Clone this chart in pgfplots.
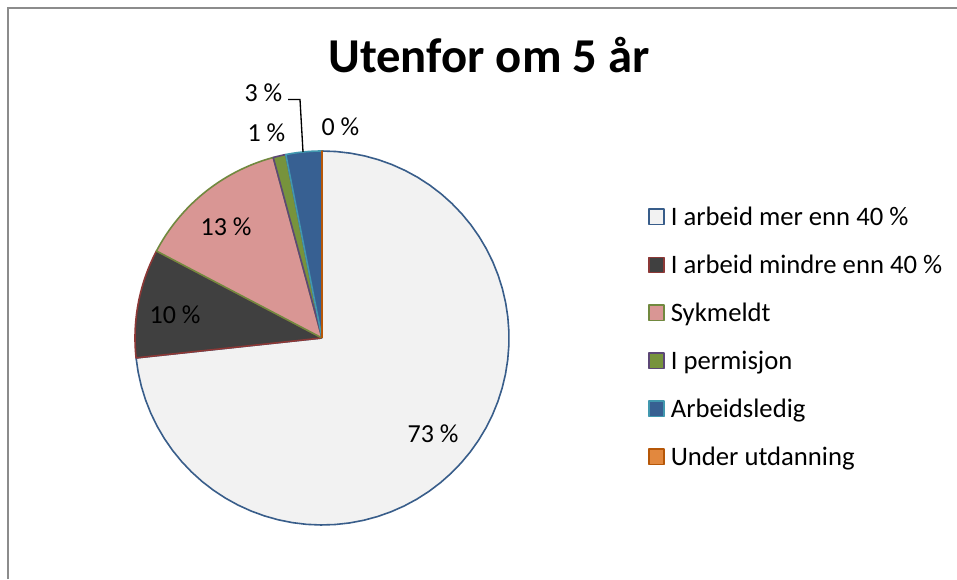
\documentclass[border=0pt]{standalone}
\usepackage{fontspec}
\setmainfont{Carlito}
\usepackage{pgfplots}
\usepackage{pgfplotstable}
\pgfplotsset{compat=1.18}
\definecolor{fA}{HTML}{F2F2F2}\definecolor{dA}{HTML}{385D8A}
\definecolor{fB}{HTML}{404040}\definecolor{dB}{HTML}{8C3836}
\definecolor{fC}{HTML}{D99694}\definecolor{dC}{HTML}{71893F}
\definecolor{fD}{HTML}{77933C}\definecolor{dD}{HTML}{5C4776}
\definecolor{fE}{HTML}{376092}\definecolor{dE}{HTML}{4198AF}
\definecolor{fF}{HTML}{E2883E}\definecolor{dF}{HTML}{B65708}
\definecolor{framegray}{HTML}{8C8C8C}

% share in percent, clockwise from 12 o'clock
\pgfplotstableread{
idx value
0 73.3
1 9.4
2 13.1
3 1.1
4 3.1
5 0.0
}\piedata

\newcommand\slice[4]{%
\addplot[fill=#1, draw=#2, line width=1.2pt, line join=round, samples at={0,...,62}, variable=\t]
 ({(\t<0.5||\t>61.5) ? 322 : 322+187*cos((#3)+((#4)-(#3))*(\t-1)/60)},
  {(\t<0.5||\t>61.5) ? 241 : 241+187*sin((#3)+((#4)-(#3))*(\t-1)/60)});
}

\begin{document}
\begin{tikzpicture}[x=0.75pt,y=0.75pt]
\useasboundingbox (0,0) rectangle (957,579);
\fill[white] (0,0) rectangle (957,579);
\draw[framegray, line width=1.5] (8,0) -- (8,571) -- (957,571);
\pgfplotstablegetelem{0}{value}\of\piedata\let\vA\pgfplotsretval
\pgfplotstablegetelem{1}{value}\of\piedata\let\vB\pgfplotsretval
\pgfplotstablegetelem{2}{value}\of\piedata\let\vC\pgfplotsretval
\pgfplotstablegetelem{3}{value}\of\piedata\let\vD\pgfplotsretval
\pgfplotstablegetelem{4}{value}\of\piedata\let\vE\pgfplotsretval
\pgfplotstablegetelem{5}{value}\of\piedata\let\vF\pgfplotsretval
\pgfmathsetmacro\aA{90}
\pgfmathsetmacro\aB{\aA-3.6*\vA}
\pgfmathsetmacro\aC{\aB-3.6*\vB}
\pgfmathsetmacro\aD{\aC-3.6*\vC}
\pgfmathsetmacro\aE{\aD-3.6*\vD}
\pgfmathsetmacro\aF{\aE-3.6*\vE}
\pgfmathsetmacro\aG{\aF-3.6*\vF}
\begin{axis}[at={(0,0)}, anchor=south west, x=0.75pt, y=0.75pt,
  xmin=0, xmax=957, ymin=0, ymax=579, hide axis, clip=false,
  legend image code/.code={\draw[#1, line width=1pt] (0pt,-5.8pt) rectangle (11.4pt,5.6pt);},
  legend cell align=left,
  legend style={at={(axis cs:648,376.7)}, anchor=north west, draw=none, fill=none,
    inner sep=0pt, row sep=14.9pt,
    font=\fontsize{20}{24}\selectfont,
    nodes={inner ysep=0pt, inner xsep=4.5pt, text height=17pt, text depth=4.1pt}},
]
\slice{fA}{dA}{\aA}{\aB}\addlegendentry{I arbeid mer enn 40 \%}
\slice{fB}{dB}{\aB}{\aC}\addlegendentry{I arbeid mindre enn 40 \%}
\slice{fC}{dC}{\aC}{\aD}\addlegendentry{Sykmeldt}
\slice{fD}{dD}{\aD}{\aE}\addlegendentry{I permisjon}
\slice{fE}{dE}{\aE}{\aF}\addlegendentry{Arbeidsledig}
\slice{fF}{dF}{\aF}{\aG}\addlegendentry{Under utdanning}
\node[anchor=base, font=\fontsize{36.5}{40}\selectfont\bfseries] at (axis cs:489,506) {Utenfor om 5 år};
\begin{scope}[every node/.style={anchor=base, font=\fontsize{19.5}{23}\selectfont, inner sep=0pt}]
\node at (axis cs:433,136) {73 \%};
\node at (axis cs:175,255) {10 \%};
\node at (axis cs:226,343) {13 \%};
\node at (axis cs:266.5,437) {1 \%};
\node at (axis cs:263.5,477) {3 \%};
\node at (axis cs:340.5,443) {0 \%};
\end{scope}
\draw[black, line width=1pt] (axis cs:288,479.5) -- (axis cs:300,479.5) -- (axis cs:303,427);
\end{axis}
\end{tikzpicture}
\end{document}
